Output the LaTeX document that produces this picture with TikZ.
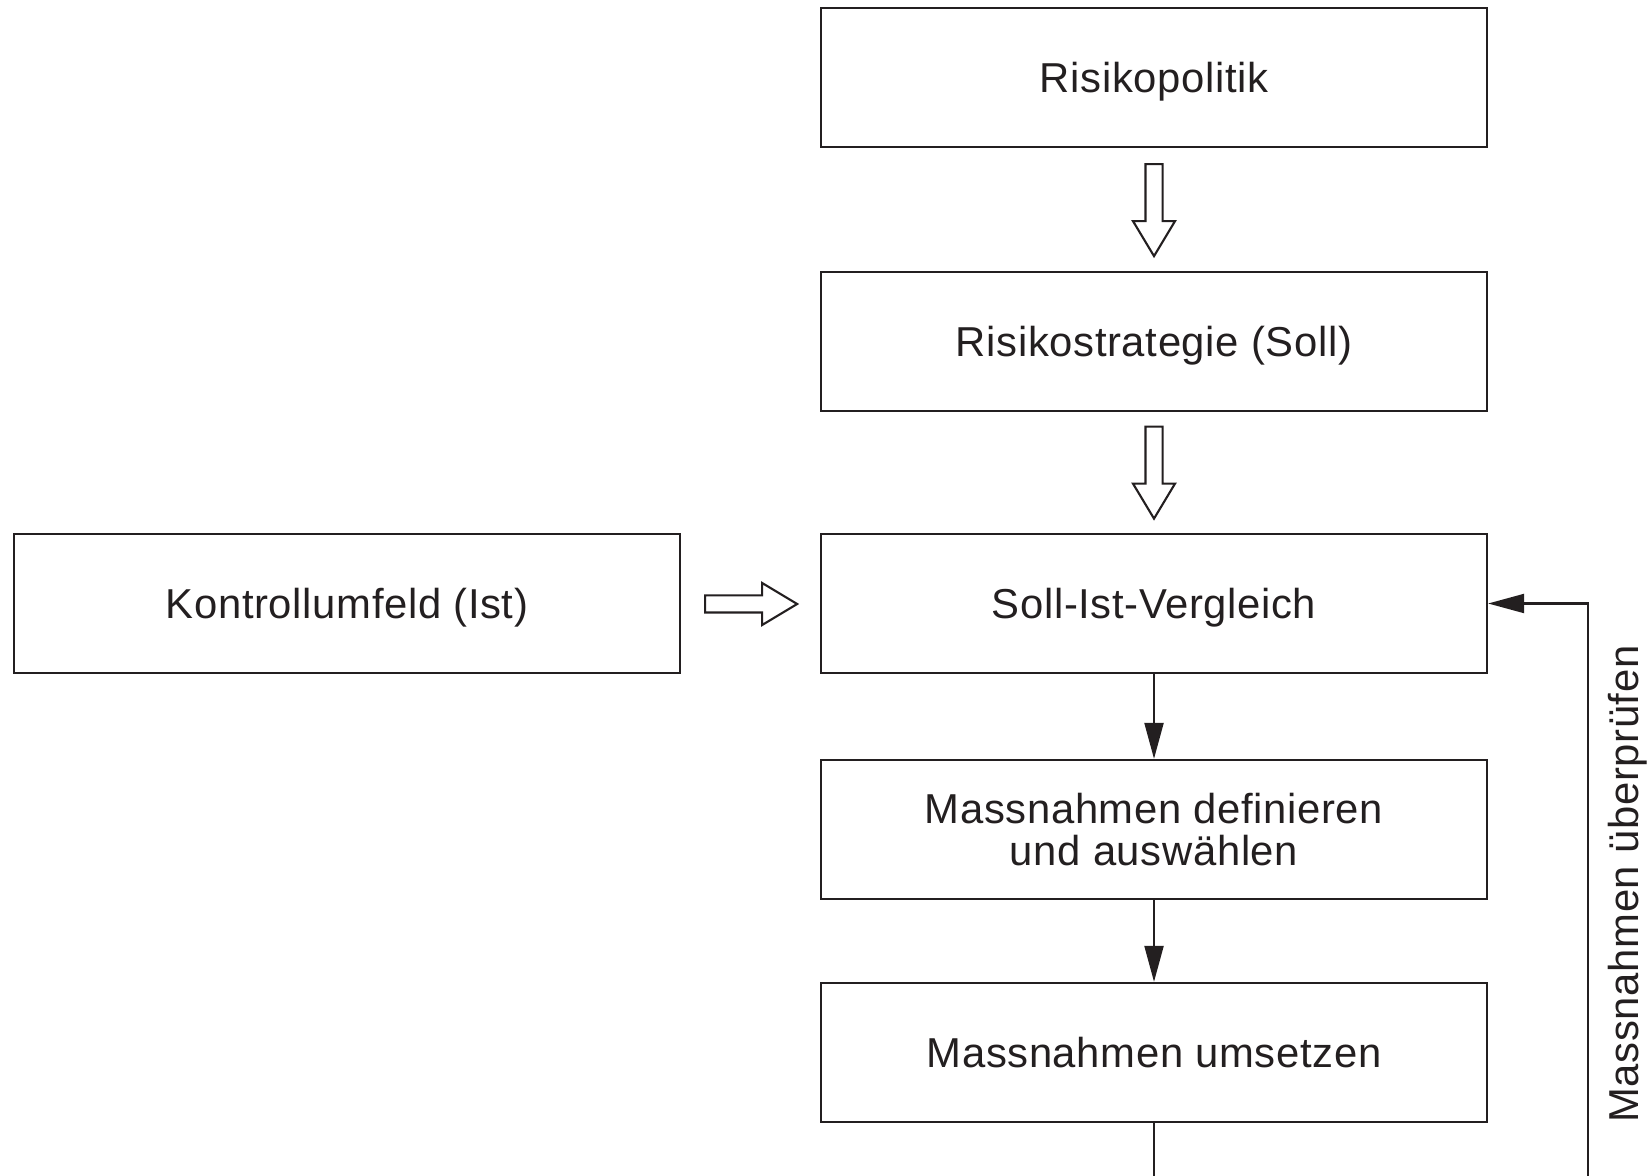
\documentclass[tikz,border=0pt]{standalone}
\usepackage{fontspec}
\setmainfont{Liberation Sans}[LetterSpace=1.5]
\usetikzlibrary{shapes,shapes.arrows,arrows.meta}
\definecolor{ink}{HTML}{231F20}

\begin{document}
\begin{tikzpicture}[->, >={Triangle[length=3.6mm,width=1.9mm]}, draw=ink, line width=0.6pt]
   \useasboundingbox (0,0) rectangle (16.52,-11.76);
   \fontsize{11.9}{12}\selectfont
   \tikzstyle{main}=[rectangle, draw=ink, line width=0.65pt, minimum width=66.6mm, minimum height=13.9mm, align=center, text=ink]
   \tikzstyle{oneline}=[text height=8.5pt, text depth=0pt]
   \tikzstyle{hollow}=[single arrow, draw=ink, fill=white, inner sep=0pt, text height=1.5mm, text depth=0pt, minimum height=9.2mm, single arrow head extend=1.25mm, single arrow tip angle=62]
   \node[main,oneline] (politik) at (11.54,-0.775) {Risikopolitik};
   \node[main,oneline] (strategie) at (11.54,-3.415) {Risikostrategie (Soll)};
   \node[main,oneline] (soll) at (11.54,-6.035) {Soll-Ist-Vergleich};
   \node[main,oneline] (umfeld) at (3.47,-6.035) {Kontrollumfeld (Ist)};
   \node[main] (definieren) at (11.54,-8.295) {Massnahmen definieren\\und auswählen};
   \node[main,oneline] (umsetzen) at (11.54,-10.525) {Massnahmen umsetzen};
   % hollow arrows
   \foreach \n/\y in {p1/-2.03,p2/-4.655} {
       \node[hollow, rotate=-90] (\n) at (11.54,\y) {};
   }
   \node[hollow] (p3) at (7.44,-6.04) {};
   \path (soll) edge (definieren);
   \path (definieren) edge (umsetzen);
   % loop back, cut at the lower edge
   \coordinate (ende) at (11.54,-11.76);
   \coordinate (rueck) at (15.88,-11.76);
   \draw[-] (umsetzen.south) -- (ende);
   \draw (rueck) |- (soll.east);
   \node[rotate=90, text=ink] (pruefen) at (16.28,-8.84) {Massnahmen überprüfen};
\end{tikzpicture}
\end{document}
